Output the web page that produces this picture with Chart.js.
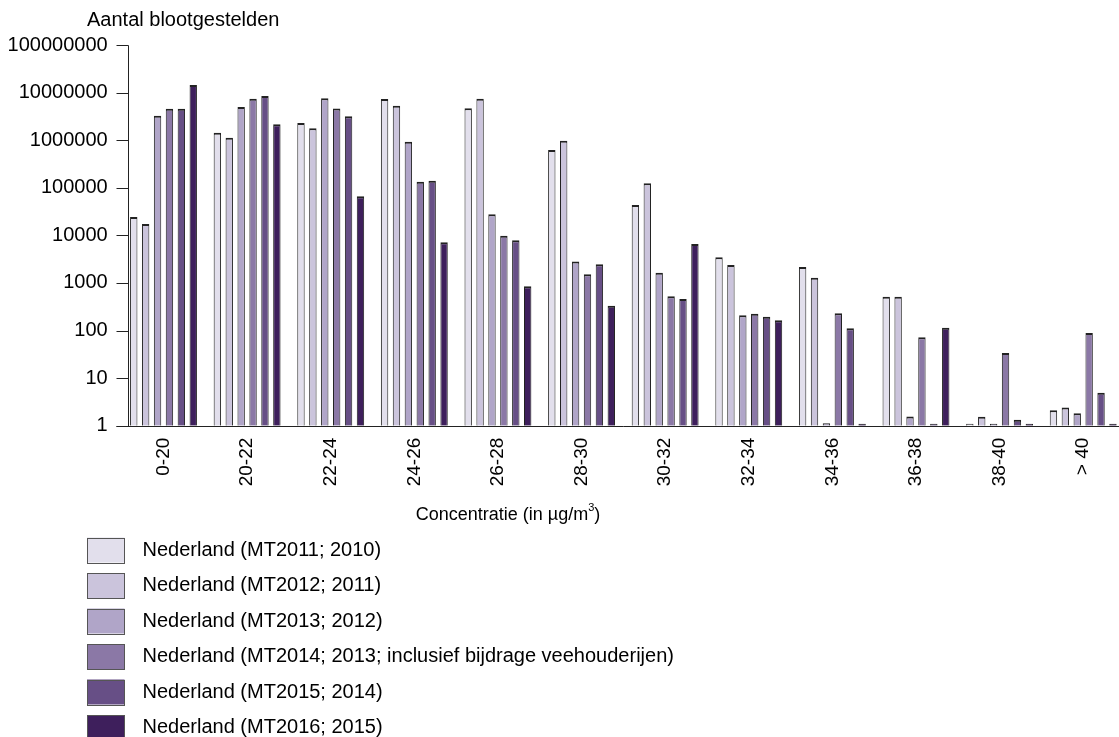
<!DOCTYPE html>
<html>
<head>
<meta charset="utf-8">
<script src="https://cdn.jsdelivr.net/npm/chart.js@4"></script>
<style>
  body { margin: 0; background: #fff; overflow: hidden; }
  #wrap { position: relative; width: 1130px; height: 737px; }
</style>
</head>
<body>
<div id="wrap"><canvas id="grafiek"></canvas></div>
<script>
// klassen concentratie
const klassen = ['0-20', '20-22', '22-24', '24-26', '26-28', '28-30', '30-32', '32-34', '34-36', '36-38', '38-40', '> 40'];

// aantal blootgestelden per rapportage
const mt2011 = [24300, 1430000, 2300000, 7300000, 4700000, 620000, 43500, 3450, 2150, 512, 1, 2.1];
const mt2012 = [17300, 1120000, 1770000, 5300000, 7400000, 970000, 124000, 2370, 1290, 512, 1.55, 2.4];
const mt2013 = [3250000, 5000000, 7600000, 930000, 27600, 2830, 1630, 209, 1.12, 1.57, 1, 1.82];
const mt2014 = [4570000, 7400000, 4650000, 134000, 9800, 1520, 525, 225, 230, 72, 33.6, 89];
const mt2015 = [4570000, 8500000, 3200000, 141000, 7850, 2460, 457, 195, 111, 1, 1.34, 4.9];
const mt2016 = [14400000, 2150000, 66000, 7200, 850, 330, 6550, 164, 1, 114, 1, 1];

const reeksNamen = [
  'Nederland (MT2011; 2010)',
  'Nederland (MT2012; 2011)',
  'Nederland (MT2013; 2012)',
  'Nederland (MT2014; 2013; inclusief bijdrage veehouderijen)',
  'Nederland (MT2015; 2014)',
  'Nederland (MT2016; 2015)'
];
const kleuren = ['#e2dfec', '#cbc4dc', '#b0a5c8', '#8b78a6', '#674f86', '#3e1f5c'];

const yTicks = [1, 10, 100, 1000, 10000, 100000, 1000000, 10000000, 100000000];
const yTitel = 'Aantal blootgestelden';
const xTitel = 'Concentratie (in µg/m';
const xTitelExp = '3';

const font = 'Liberation Sans, Arial, sans-serif';

const reeksen = [mt2011, mt2012, mt2013, mt2014, mt2015, mt2016];

const datasets = reeksen.map((r, i) => ({
  label: reeksNamen[i],
  data: r,
  backgroundColor: kleuren[i],
  borderColor: '#222',
  borderWidth: { top: 2, left: 1, right: 1, bottom: 0 },
  minBarLength: 2,
  categoryPercentage: 0.854,
  barPercentage: 0.62
}));

// assen, titels en legenda zelf tekenen
const extras = {
  id: 'extras',
  afterDraw(chart) {
    const ctx = chart.ctx;
    const a = chart.chartArea;
    const y = chart.scales.y;
    const ax = Math.round(a.left + 6.3) + 0.5;
    const bodem = Math.round(a.bottom) + 0.5;

    ctx.save();
    ctx.strokeStyle = '#222';
    ctx.lineWidth = 1;
    ctx.beginPath();
    ctx.moveTo(ax, Math.round(y.getPixelForValue(yTicks[yTicks.length - 1])) + 0.5);
    ctx.lineTo(ax, bodem);
    yTicks.forEach(v => {
      const py = Math.round(y.getPixelForValue(v)) + 0.5;
      ctx.moveTo(ax - 12, py);
      ctx.lineTo(ax, py);
    });
    ctx.moveTo(ax - 12, bodem);
    ctx.lineTo(a.right + 10, bodem);
    ctx.stroke();

    ctx.fillStyle = '#000';
    ctx.textBaseline = 'middle';
    ctx.textAlign = 'left';
    ctx.font = '20px ' + font;
    ctx.fillText(yTitel, 87, 20);

    // x-as titel met superscript
    ctx.font = '18px ' + font;
    const w1 = ctx.measureText(xTitel).width;
    ctx.font = '11px ' + font;
    const w2 = ctx.measureText(xTitelExp).width;
    ctx.font = '18px ' + font;
    const w3 = ctx.measureText(')').width;
    let tx = 508 - (w1 + w2 + w3) / 2;
    ctx.fillText(xTitel, tx, 515);
    ctx.font = '11px ' + font;
    ctx.fillText(xTitelExp, tx + w1, 508);
    ctx.font = '18px ' + font;
    ctx.fillText(')', tx + w1 + w2, 515);

    ctx.font = '20px ' + font;
    chart.data.datasets.forEach((ds, i) => {
      const ry = 550 + i * 35.5;
      ctx.fillStyle = ds.backgroundColor;
      ctx.fillRect(87, ry - 12.5, 37.5, 25);
      ctx.strokeStyle = '#555';
      ctx.strokeRect(87.5, Math.round(ry - 12.5) + 0.5, 37, 25);
      ctx.fillStyle = '#000';
      ctx.fillText(ds.label, 142.5, ry);
    });
    ctx.restore();
  }
};

new Chart(document.getElementById('grafiek'), {
  type: 'bar',
  data: { labels: klassen, datasets: datasets },
  plugins: [extras],
  options: {
    responsive: true,
    maintainAspectRatio: false,
    animation: false,
    layout: { padding: { top: 45, left: 0, right: 5, bottom: 0 } },
    plugins: {
      legend: { display: false },
      title: { display: false },
      tooltip: { enabled: false }
    },
    scales: {
      x: {
        grid: { display: false, drawTicks: false },
        border: { display: false },
        ticks: {
          color: '#000',
          font: { family: font, size: 19 },
          minRotation: 90,
          maxRotation: 90,
          padding: 12
        },
        afterFit: s => { s.height = 737 - 425.7; }
      },
      y: {
        type: 'logarithmic',
        min: 1,
        max: 100000000,
        grid: { display: false, drawTicks: false },
        border: { display: false },
        ticks: {
          color: '#000',
          font: { family: font, size: 20 },
          padding: 14,
          callback: v => String(v)
        },
        afterBuildTicks: s => { s.ticks = yTicks.map(v => ({ value: v })); },
        afterFit: s => { s.width = 121.7; }
      }
    }
  }
});
</script>
</body>
</html>
